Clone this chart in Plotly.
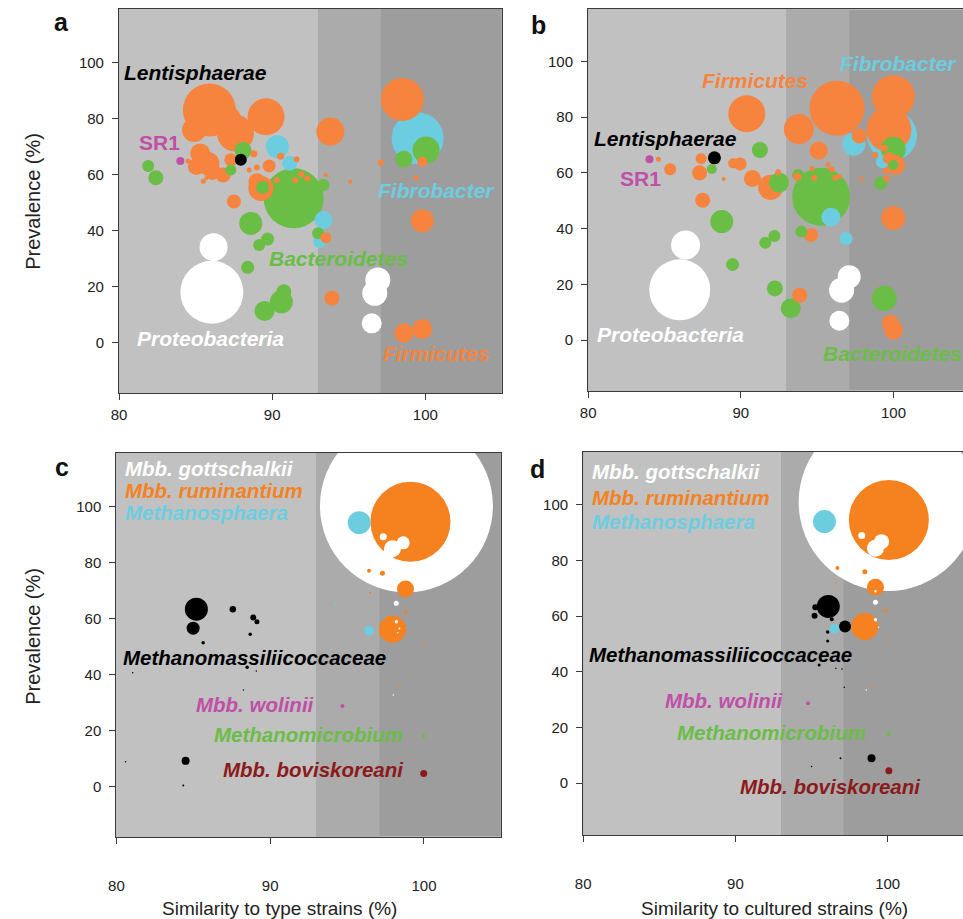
import plotly.graph_objects as go

# ---------------- colours ----------------
ORANGE_AB = "#f6843f"
ORANGE_CD = "#f5821f"
GREEN = "#6abd45"
CYAN = "#6dcde0"
WHITE = "#ffffff"
BLACK = "#000000"
MAGENTA = "#c04fa8"
DARKRED = "#8b1a1a"
BG_LIGHT = "#c1c1c1"
BG_MID = "#ababab"
BG_DARK = "#9d9d9d"

# thresholds of the shaded similarity bands (%)
BANDS = [80, 93, 97.1]

# ---------------- panel a: similarity to type strains ----------------
# (similarity %, prevalence %, bubble size)
A_FIRMICUTES = [
    (85.9, 83.1, 53), (87.6, 74.8, 37), (84.9, 76.0, 24), (87.0, 79.5, 30), (89.6, 80.7, 37),
    (85.3, 67.6, 20), (85.8, 64.0, 23), (85.05, 62.9, 17), (86.1, 61.1, 17), (85.5, 57.7, 5), (85.7, 58.7, 4),
    (86.8, 59.9, 15), (87.5, 50.4, 14), (89.26, 55.1, 25), (89.0, 57.5, 17), (89.8, 63.1, 13), (87.3, 65.3, 13),
    (93.8, 75.4, 28), (98.5, 86.9, 43), (99.8, 43.5, 23), (98.6, 3.4, 19), (99.8, 4.8, 20), (93.9, 15.9, 15),
    (93.5, 37.5, 11), (84.5, 64.9, 5), (88.8, 67.5, 7), (89.0, 62.6, 6), (88.5, 61.7, 5), (90.55, 66.6, 7),
    (91.6, 65.5, 6), (90.3, 58.0, 6), (91.5, 58.0, 6), (91.9, 60.2, 6), (92.3, 58.6, 6), (93.5, 59.9, 4),
    (95.1, 57.5, 4), (97.1, 64.3, 6), (99.4, 58.9, 5), (99.8, 64.6, 10),
]
A_BACTEROIDETES = [
    (91.4, 51.6, 60), (100.05, 68.8, 27), (98.6, 65.5, 17), (88.6, 42.6, 23), (89.7, 37.0, 13),
    (89.15, 34.9, 12), (88.4, 26.9, 13), (90.76, 18.2, 15), (90.6, 14.6, 23), (89.5, 11.3, 20),
    (88.1, 68.6, 17), (87.3, 61.7, 11), (89.37, 55.5, 13), (93.35, 56.3, 12), (93.0, 39.1, 12),
    (81.9, 63.1, 12), (82.4, 58.9, 15),
]
A_FIBROBACTER = [(99.5, 73.0, 52), (90.34, 70.0, 23), (91.15, 64.1, 15), (93.35, 43.8, 18), (93.1, 36.1, 13)]
A_PROTEOBACTERIA = [(86.06, 18.0, 63), (86.17, 34.1, 28), (96.9, 22.4, 25), (96.7, 17.6, 25), (96.5, 6.9, 20)]
A_LENTISPHAERAE = [(87.95, 65.3, 12)]
A_SR1 = [(84.0, 64.9, 8)]

# ---------------- panel b: similarity to cultured strains ----------------
B_FIRMICUTES = [
    (90.39, 81.2, 37), (96.3, 83.2, 55), (99.98, 87.3, 43), (99.7, 75.5, 45), (93.8, 75.7, 30),
    (97.75, 73.2, 15), (95.1, 68.0, 18), (91.95, 54.8, 25), (90.76, 58.0, 17), (89.95, 63.2, 13),
    (89.5, 63.4, 10), (87.5, 50.2, 15), (87.3, 60.0, 15), (87.4, 65.1, 11), (85.37, 61.3, 12),
    (84.6, 64.9, 5), (88.88, 57.8, 4), (94.6, 37.7, 14), (93.85, 16.1, 15), (99.8, 6.0, 17),
    (100.0, 3.6, 19), (99.98, 43.8, 24), (94.66, 61.6, 5), (95.7, 63.0, 5), (95.95, 61.2, 6),
    (94.8, 58.2, 6), (96.2, 58.2, 6), (96.45, 58.7, 5), (93.7, 58.6, 8), (92.45, 60.2, 6),
    (97.9, 57.8, 4), (99.4, 68.8, 7), (98.8, 66.4, 6), (99.7, 65.2, 12), (100.1, 62.8, 20),
    (99.5, 60.7, 6), (99.55, 58.0, 6),
]
B_BACTEROIDETES = [
    (95.26, 51.4, 58), (99.98, 68.5, 25), (99.4, 14.95, 25), (92.5, 56.5, 20), (88.75, 42.5, 23),
    (91.25, 68.2, 16), (88.1, 61.4, 10), (93.96, 38.9, 12), (92.2, 37.3, 12), (91.6, 34.9, 12),
    (89.46, 27.1, 13), (92.23, 18.5, 16), (93.27, 11.4, 20), (99.16, 56.3, 13), (93.75, 59.2, 12),
    (99.98, 62.8, 10),
]
B_FIBROBACTER = [(99.9, 73.4, 50), (97.4, 70.3, 23), (95.9, 44.1, 19), (96.9, 36.4, 13), (99.27, 64.0, 13)]
B_PROTEOBACTERIA = [(86.0, 18.0, 61), (86.38, 34.1, 29), (97.1, 22.7, 23), (96.6, 17.9, 25), (96.45, 6.9, 20)]
B_LENTISPHAERAE = [(88.27, 65.4, 13)]
B_SR1 = [(84.02, 64.9, 8)]

# ---------------- panel c: methanogens vs type strains ----------------
C_GOTTSCHALKII = [
    (98.86, 100.3, 173), (97.35, 89.3, 7), (98.65, 87.1, 13), (97.95, 85.0, 17), (97.7, 83.2, 12),
    (98.2, 65.5, 5), (98.2, 58.9, 3.5), (98.4, 56.5, 2), (98.3, 55.0, 1.5), (98.0, 32.7, 1.5),
]
C_RUMINANTIUM = [
    (99.12, 94.6, 80), (96.43, 77.1, 4), (97.3, 76.2, 5), (98.8, 70.6, 17), (97.96, 56.2, 27),
    (98.8, 62.3, 3.5), (96.5, 69.3, 2), (98.43, 35.7, 2), (99.9, 51.5, 2),
]
C_METHANOSPHAERA = [(95.79, 94.3, 23), (96.43, 55.7, 10), (94.24, 65.1, 2)]
C_METHANOMASSILIICOCCACEAE = [
    (85.2, 63.4, 23), (84.99, 56.6, 13), (87.57, 63.4, 6.5), (88.9, 60.4, 6), (89.14, 58.9, 5),
    (88.7, 54.4, 3.5), (85.64, 51.4, 3.5), (88.5, 42.6, 3.5), (89.1, 41.3, 1.5), (81.06, 40.7, 1.5),
    (88.26, 34.5, 1.5), (84.5, 9.2, 8), (84.35, 0.4, 2), (80.6, 8.9, 1.5),
]
C_WOLINII = [(94.7, 28.8, 4)]
C_METHANOMICROBIUM = [(99.98, 18.1, 4)]
C_BOVISKOREANI = [(99.98, 4.7, 7)]

# ---------------- panel d: methanogens vs cultured strains ----------------
D_GOTTSCHALKII = [
    (100.0, 101.0, 178), (98.3, 89.0, 7), (99.6, 86.8, 15), (99.2, 84.4, 17),
    (99.2, 65.0, 5), (99.2, 58.7, 3.5), (99.2, 69.0, 2.5), (99.4, 56.0, 1.5), (98.6, 33.5, 1.5),
]
D_RUMINANTIUM = [
    (100.08, 94.6, 80), (96.7, 77.3, 4), (98.5, 76.0, 5), (99.2, 70.4, 17), (98.5, 56.3, 27),
    (99.87, 62.0, 3.5), (96.6, 72.0, 1.5), (99.0, 35.0, 2), (99.9, 51.5, 2),
]
D_METHANOSPHAERA = [(95.85, 94.0, 23), (96.5, 55.4, 10)]
D_METHANOMASSILIICOCCACEAE = [
    (96.1, 63.5, 23), (97.2, 56.3, 12), (95.2, 60.2, 6), (95.25, 63.2, 6), (96.33, 58.9, 4),
    (96.06, 54.3, 3.5), (96.06, 51.1, 3), (95.5, 42.5, 3), (98.94, 9.0, 8), (96.9, 9.0, 2),
    (96.6, 41.3, 1.5), (97.0, 41.0, 1.5), (97.15, 34.5, 1.5), (95.0, 6.0, 1.5),
]
D_WOLINII = [(94.77, 28.7, 4)]
D_METHANOMICROBIUM = [(100.08, 17.7, 4)]
D_BOVISKOREANI = [(100.08, 4.5, 7)]

# ---------------- texts ----------------
PANEL_LETTERS = ["a", "b", "c", "d"]
X_TITLES = ["Similarity to type strains (%)", "Similarity to cultured strains (%)"]
Y_TITLE = "Prevalence (%)"
X_TICKS = [80, 90, 100]
Y_TICKS = [0, 20, 40, 60, 80, 100]

# label text, colour, x, y, anchor, italic
A_LABELS = [
    ("Lentisphaerae", BLACK, 80.2, 96.6, "left", True),
    ("SR1", MAGENTA, 82.67, 71.4, "center", False),
    ("Fibrobacter", CYAN, 100.7, 54.5, "center", True),
    ("Bacteroidetes", GREEN, 94.3, 30.1, "center", True),
    ("Proteobacteria", WHITE, 86.0, 1.6, "center", True),
    ("Firmicutes", ORANGE_AB, 100.7, -3.8, "center", True),
]
B_LABELS = [
    ("Fibrobacter", CYAN, 100.3, 99.3, "center", True),
    ("Firmicutes", ORANGE_AB, 90.9, 93.3, "center", True),
    ("Lentisphaerae", BLACK, 80.28, 72.4, "left", True),
    ("SR1", MAGENTA, 83.46, 58.0, "center", False),
    ("Proteobacteria", WHITE, 85.4, 1.8, "center", True),
    ("Bacteroidetes", GREEN, 99.9, -4.8, "center", True),
]
C_LABELS = [
    ("Mbb. gottschalkii", WHITE, 80.45, 113.8, "left", True),
    ("Mbb. ruminantium", ORANGE_CD, 80.45, 105.8, "left", True),
    ("Methanosphaera", CYAN, 80.45, 97.8, "left", True),
    ("Methanomassiliicoccaceae", BLACK, 80.28, 46.2, "left", True),
    ("Mbb. wolinii", MAGENTA, 93.06, 29.5, "right", True),
    ("Methanomicrobium", GREEN, 98.75, 18.5, "right", True),
    ("Mbb. boviskoreani", DARKRED, 98.86, 6.0, "right", True),
]
D_LABELS = [
    ("Mbb. gottschalkii", WHITE, 80.45, 112.0, "left", True),
    ("Mbb. ruminantium", ORANGE_CD, 80.45, 102.6, "left", True),
    ("Methanosphaera", CYAN, 80.45, 94.2, "left", True),
    ("Methanomassiliicoccaceae", BLACK, 80.25, 46.1, "left", True),
    ("Mbb. wolinii", MAGENTA, 93.3, 29.7, "right", True),
    ("Methanomicrobium", GREEN, 98.68, 18.3, "right", True),
    ("Mbb. boviskoreani", DARKRED, 102.3, -1.2, "right", True),
]

PANELS = [
    dict(groups=[(A_FIRMICUTES, ORANGE_AB), (A_BACTEROIDETES, GREEN), (A_FIBROBACTER, CYAN),
                 (A_PROTEOBACTERIA, WHITE), (A_LENTISPHAERAE, BLACK), (A_SR1, MAGENTA)],
         labels=A_LABELS, xr=[80, 105], yr=[-18.0, 119.2], fs=21,
         xd=[112 / 963, 498 / 963], yd=[1 - 393 / 919, 1 - 9 / 919], right=True, standoff=2),
    dict(groups=[(B_FIRMICUTES, ORANGE_AB), (B_BACTEROIDETES, GREEN), (B_FIBROBACTER, CYAN),
                 (B_PROTEOBACTERIA, WHITE), (B_LENTISPHAERAE, BLACK), (B_SR1, MAGENTA)],
         labels=B_LABELS, xr=[80, 104.55], yr=[-18.2, 118.7], fs=21,
         xd=[585 / 963, 1.0], yd=[1 - 390.7 / 919, 1 - 9.3 / 919], right=False, standoff=2),
    dict(groups=[(C_GOTTSCHALKII, WHITE), (C_RUMINANTIUM, ORANGE_CD), (C_METHANOSPHAERA, CYAN),
                 (C_METHANOMASSILIICOCCACEAE, BLACK), (C_WOLINII, MAGENTA),
                 (C_METHANOMICROBIUM, GREEN), (C_BOVISKOREANI, DARKRED)],
         labels=C_LABELS, xr=[80, 105], yr=[-17.9, 119.3], fs=20.5,
         xd=[109.3 / 963, 497 / 963], yd=[1 - 836.7 / 919, 1 - 452.7 / 919], right=True, standoff=29),
    dict(groups=[(D_GOTTSCHALKII, WHITE), (D_RUMINANTIUM, ORANGE_CD), (D_METHANOSPHAERA, CYAN),
                 (D_METHANOMASSILIICOCCACEAE, BLACK), (D_WOLINII, MAGENTA),
                 (D_METHANOMICROBIUM, GREEN), (D_BOVISKOREANI, DARKRED)],
         labels=D_LABELS, xr=[80, 104.95], yr=[-18.6, 119.0], fs=20.5,
         xd=[580 / 963, 1.0], yd=[1 - 835 / 919, 1 - 452 / 919], right=False, standoff=29),
]

FONT = "Liberation Sans, Arial, sans-serif"
LINE = "#3a3a3a"

fig = go.Figure()
shapes = []
annotations = []
layout = {}

for i, p in enumerate(PANELS):
    n = "" if i == 0 else str(i + 1)
    xa, ya = "x" + n, "y" + n
    # combine groups, big bubbles drawn first so small ones sit on top
    pts = []
    for data, col in p["groups"]:
        for x, y, s in data:
            pts.append((s, x, y, col))
    pts.sort(key=lambda t: -t[0])
    fig.add_trace(go.Scatter(
        x=[t[1] for t in pts], y=[t[2] for t in pts], mode="markers",
        marker=dict(size=[t[0] for t in pts], color=[t[3] for t in pts],
                    sizemode="diameter", line=dict(width=0), opacity=1),
        xaxis=xa, yaxis=ya, cliponaxis=True, hoverinfo="skip", showlegend=False))

    # shaded bands
    band_cols = [BG_LIGHT, BG_MID]
    for k in range(2):
        shapes.append(dict(type="rect", xref=xa, yref=ya + " domain", x0=BANDS[k], x1=BANDS[k + 1],
                           y0=0, y1=1, fillcolor=band_cols[k], line=dict(width=0), layer="below"))

    layout["xaxis" + n] = dict(
        domain=p["xd"], range=p["xr"], anchor=ya, showgrid=False, zeroline=False,
        showline=True, linecolor=LINE, linewidth=1.2, mirror=True,
        ticks="outside", ticklen=6, tickcolor=LINE, tickwidth=1, tickvals=X_TICKS,
        tickfont=dict(family=FONT, size=15, color="#222"), ticklabelstandoff=p["standoff"],
        fixedrange=True)
    layout["yaxis" + n] = dict(
        domain=p["yd"], range=p["yr"], anchor=xa, showgrid=False, zeroline=False,
        showline=True, linecolor=LINE, linewidth=1.2, mirror=p["right"],
        ticks="outside", ticklen=6, tickcolor=LINE, tickwidth=1, tickvals=Y_TICKS,
        tickfont=dict(family=FONT, size=15, color="#222"), ticklabelstandoff=5,
        fixedrange=True)

    for text, col, x, y, anc, ital in p["labels"]:
        t = "<b><i>%s</i></b>" % text if ital else "<b>%s</b>" % text
        annotations.append(dict(text=t, x=x, y=y, xref=xa, yref=ya,
                                xanchor=anc, yanchor="middle", showarrow=False,
                                font=dict(family=FONT, size=p["fs"], color=col)))

# panel letters
for letter, (px, py) in zip(PANEL_LETTERS, [(54, 22.5), (535, 25), (54, 466.5), (534, 468.5)]):
    annotations.append(dict(text="<b>%s</b>" % letter, x=px / 963, y=1 - py / 919, xref="paper",
                            yref="paper", xanchor="center", yanchor="middle", showarrow=False,
                            font=dict(family=FONT, size=25, color="#111")))

# axis titles
for py in (201, 636):
    annotations.append(dict(text=Y_TITLE, x=25 / 963, y=1 - py / 919, xref="paper", yref="paper",
                            textangle=-90, xanchor="center", yanchor="middle", showarrow=False,
                            font=dict(family=FONT, size=20, color="#222")))
for title, px in zip(X_TITLES, (274, 773)):
    annotations.append(dict(text=title, x=px / 963, y=1 - 908 / 919, xref="paper", yref="paper",
                            xanchor="center", yanchor="middle", showarrow=False,
                            font=dict(family=FONT, size=19, color="#222")))

fig.update_layout(
    width=963, height=919, margin=dict(l=0, r=0, t=0, b=0),
    paper_bgcolor="white", plot_bgcolor=BG_DARK,
    shapes=shapes, annotations=annotations, showlegend=False,
    font=dict(family=FONT), **layout)

fig.write_html("out.html", config={"displayModeBar": False},
               post_script="document.body.style.margin='0';")
